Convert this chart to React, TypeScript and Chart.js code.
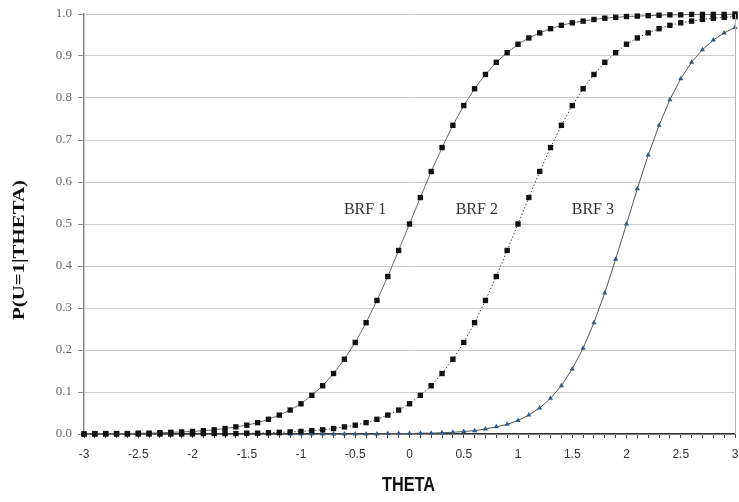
import React, { useEffect, useRef } from "react";
import { Chart, registerables } from "chart.js";

Chart.register(...registerables);

// Ability scale (THETA), one point every 0.1
const THETA = [
  -3.0, -2.9, -2.8, -2.7, -2.6, -2.5, -2.4, -2.3, -2.2, -2.1,
  -2.0, -1.9, -1.8, -1.7, -1.6, -1.5, -1.4, -1.3, -1.2, -1.1,
  -1.0, -0.9, -0.8, -0.7, -0.6, -0.5, -0.4, -0.3, -0.2, -0.1,
  0.0,
  0.1, 0.2, 0.3, 0.4, 0.5, 0.6, 0.7, 0.8, 0.9, 1.0,
  1.1, 1.2, 1.3, 1.4, 1.5, 1.6, 1.7, 1.8, 1.9, 2.0,
  2.1, 2.2, 2.3, 2.4, 2.5, 2.6, 2.7, 2.8, 2.9, 3.0,
];

const BRF1 = [
  0.000, 0.001, 0.001, 0.001, 0.001, 0.002, 0.002, 0.003, 0.004, 0.005,
  0.006, 0.008, 0.010, 0.013, 0.017, 0.021, 0.027, 0.035, 0.045, 0.057,
  0.072, 0.092, 0.115, 0.144, 0.178, 0.218, 0.265, 0.318, 0.375, 0.437,
  0.500,
  0.563, 0.625, 0.682, 0.735, 0.782, 0.822, 0.856, 0.885, 0.908, 0.928,
  0.943, 0.955, 0.965, 0.973, 0.979, 0.983, 0.987, 0.990, 0.992, 0.994,
  0.995, 0.996, 0.997, 0.998, 0.998, 0.999, 0.999, 0.999, 0.999, 1.000,
];

const BRF2 = [
  0.000, 0.000, 0.000, 0.000, 0.000, 0.000, 0.000, 0.000, 0.000, 0.000,
  0.000, 0.001, 0.001, 0.001, 0.001, 0.002, 0.002, 0.003, 0.004, 0.005,
  0.006, 0.008, 0.010, 0.013, 0.017, 0.021, 0.027, 0.035, 0.045, 0.057,
  0.072,
  0.092, 0.115, 0.144, 0.178, 0.218, 0.265, 0.318, 0.375, 0.437, 0.500,
  0.563, 0.625, 0.682, 0.735, 0.782, 0.822, 0.856, 0.885, 0.908, 0.928,
  0.943, 0.955, 0.965, 0.973, 0.979, 0.983, 0.987, 0.990, 0.992, 0.994,
];

const BRF3 = [
  0.000, 0.000, 0.000, 0.000, 0.000, 0.000, 0.000, 0.000, 0.000, 0.000,
  0.000, 0.000, 0.000, 0.000, 0.000, 0.000, 0.000, 0.000, 0.000, 0.000,
  0.000, 0.000, 0.000, 0.000, 0.000, 0.000, 0.000, 0.000, 0.001, 0.001,
  0.001,
  0.002, 0.002, 0.003, 0.004, 0.006, 0.008, 0.012, 0.017, 0.023, 0.032,
  0.045, 0.062, 0.085, 0.115, 0.155, 0.204, 0.265, 0.336, 0.416, 0.500,
  0.584, 0.664, 0.735, 0.796, 0.846, 0.885, 0.915, 0.938, 0.955, 0.968,
];

const X_TICK_LABELS = ["-3", "-2.5", "-2", "-1.5", "-1", "-0.5", "0", "0.5", "1", "1.5", "2", "2.5", "3"];
const Y_TICK_VALUES = [0, 0.1, 0.2, 0.3, 0.4, 0.5, 0.6, 0.7, 0.8, 0.9, 1.0];
const Y_TICK_LABELS = ["0.0", "0.1", "0.2", "0.3", "0.4", "0.5", "0.6", "0.7", "0.8", "0.9", "1.0"];

const X_TITLE = "THETA";
const Y_TITLE = "P(U=1|THETA)";

// curve labels placed in data coordinates
const CURVE_LABELS = [
  { text: "BRF 1", x: -0.41, y: 0.533 },
  { text: "BRF 2", x: 0.62, y: 0.533 },
  { text: "BRF 3", x: 1.69, y: 0.535 },
];

const toPoints = (ys: number[]) => THETA.map((t, i) => ({ x: t, y: ys[i] }));

// draws a string centred at (cx, cy), stretched to a given length
function drawFitted(
  ctx: CanvasRenderingContext2D,
  text: string,
  font: string,
  cx: number,
  cy: number,
  length: number,
  rotate: boolean
) {
  ctx.save();
  ctx.font = font;
  const w = ctx.measureText(text).width;
  ctx.translate(cx, cy);
  if (rotate) ctx.rotate(-Math.PI / 2);
  ctx.scale(length / w, 1);
  ctx.textAlign = "center";
  ctx.textBaseline = "middle";
  ctx.fillText(text, 0, 0);
  ctx.restore();
}

const decorations = {
  id: "decorations",
  afterDatasetsDraw(chart: any) {
    const { ctx, chartArea, scales } = chart;
    ctx.save();
    // right border of the plot area
    ctx.strokeStyle = "#b4b4b4";
    ctx.lineWidth = 1;
    ctx.beginPath();
    ctx.moveTo(chartArea.right + 0.5, chartArea.top);
    ctx.lineTo(chartArea.right + 0.5, chartArea.bottom);
    ctx.stroke();

    // curve names
    ctx.fillStyle = "#333";
    ctx.font = "16px 'Liberation Serif', 'Times New Roman', serif";
    ctx.textAlign = "center";
    ctx.textBaseline = "middle";
    for (const l of CURVE_LABELS) {
      ctx.fillText(l.text, scales.x.getPixelForValue(l.x), scales.y.getPixelForValue(l.y));
    }
    ctx.restore();

    // axis titles
    ctx.save();
    ctx.fillStyle = "#111";
    drawFitted(ctx, X_TITLE, "bold 20px 'Liberation Sans', Arial, sans-serif", 408.5, 485, 53, false);
    drawFitted(ctx, Y_TITLE, "bold 17px 'Liberation Serif', 'Times New Roman', serif", 20, 250, 140, true);
    ctx.restore();
  },
};

export default function App() {
  const canvasRef = useRef<HTMLCanvasElement | null>(null);

  useEffect(() => {
    const canvas = canvasRef.current;
    if (!canvas) return;
    const chart = new Chart(canvas, {
      type: "line",
      data: {
        datasets: [
          {
            label: "BRF 1",
            data: toPoints(BRF1),
            borderColor: "#6a6a6a",
            borderWidth: 1,
            pointStyle: "rect",
            pointRadius: 3.8,
            pointBackgroundColor: "#111",
            pointBorderColor: "#111",
            pointBorderWidth: 0,
            clip: false as any,
          },
          {
            label: "BRF 2",
            data: toPoints(BRF2),
            borderColor: "#444",
            borderWidth: 1,
            borderDash: [1.5, 2],
            pointStyle: "rect",
            pointRadius: 3.8,
            pointBackgroundColor: "#111",
            pointBorderColor: "#111",
            pointBorderWidth: 0,
            clip: false as any,
          },
          {
            label: "BRF 3",
            data: toPoints(BRF3),
            borderColor: "#555",
            borderWidth: 1,
            pointStyle: "triangle",
            pointRadius: 3,
            pointBackgroundColor: "#2f5b8a",
            pointBorderColor: "#2f5b8a",
            pointBorderWidth: 0,
            clip: false as any,
          },
        ],
      },
      options: {
        responsive: false,
        animation: false,
        events: [],
        layout: { padding: { top: 14, right: 2, left: 0, bottom: 0 } },
        plugins: {
          legend: { display: false },
          tooltip: { enabled: false },
        },
        scales: {
          x: {
            type: "linear",
            min: -3,
            max: 3,
            afterBuildTicks: (scale: any) => {
              scale.ticks = THETA.map((v) => ({ value: v }));
            },
            afterFit: (scale: any) => {
              scale.height = 68;
              scale.paddingLeft = 0;
              scale.paddingRight = 0;
            },
            ticks: {
              autoSkip: false,
              maxRotation: 0,
              minRotation: 0,
              padding: 9,
              color: "#333",
              font: { family: "'Liberation Sans', Arial, sans-serif", size: 12 },
              callback: (_v: any, i: number) => (i % 5 === 0 ? X_TICK_LABELS[i / 5] : ""),
            },
            grid: {
              drawOnChartArea: false,
              drawTicks: true,
              tickLength: 4,
              tickColor: "#444",
            },
            border: { display: true, color: "#333", width: 1.5 },
          },
          y: {
            type: "linear",
            min: 0,
            max: 1,
            afterBuildTicks: (scale: any) => {
              scale.ticks = Y_TICK_VALUES.map((v) => ({ value: v }));
            },
            afterFit: (scale: any) => {
              scale.width = 84;
            },
            ticks: {
              padding: 6,
              color: "#666",
              font: { family: "'Liberation Serif', 'Times New Roman', serif", size: 13 },
              callback: (_v: any, i: number) => Y_TICK_LABELS[i],
            },
            grid: {
              color: "#cdcdcd",
              lineWidth: 1,
              drawTicks: true,
              tickLength: 6,
              tickColor: "#8a8a8a",
            },
            border: { display: true, color: "#8a8a8a", width: 1.5 },
          },
        },
      },
      plugins: [decorations],
    });
    return () => chart.destroy();
  }, []);

  return (
    <div style={{ position: "fixed", left: 0, top: 0, width: 739, height: 502, background: "#fff" }}>
      <canvas ref={canvasRef} width={739} height={502} style={{ display: "block" }} />
    </div>
  );
}
